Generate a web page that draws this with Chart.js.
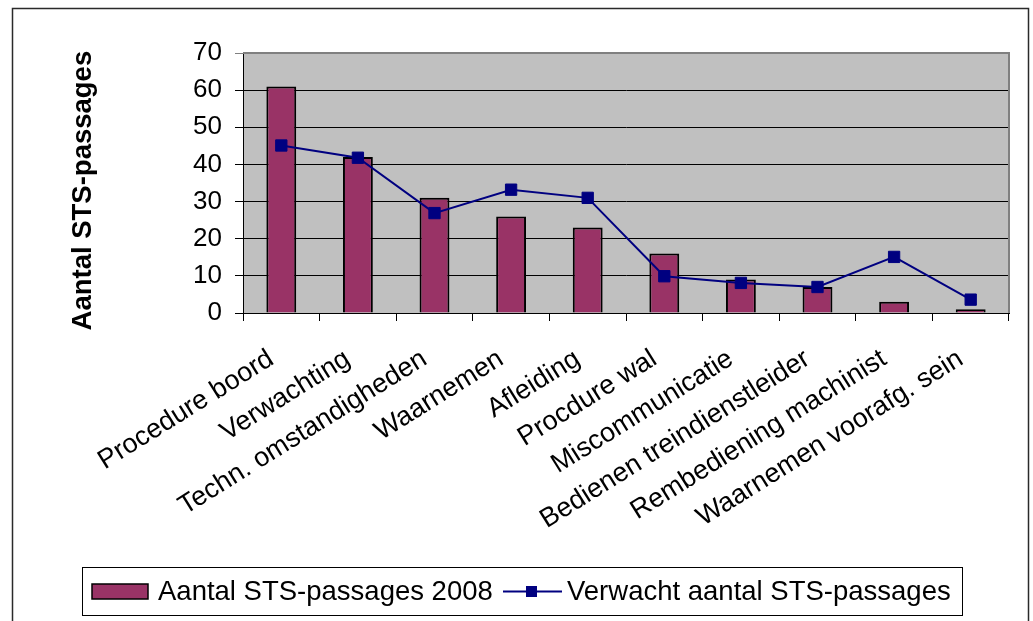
<!DOCTYPE html>
<html>
<head>
<meta charset="utf-8">
<script src="https://cdn.jsdelivr.net/npm/chart.js@4/dist/chart.umd.min.js"></script>
<style>
  html, body { margin: 0; padding: 0; background: #fff; }
  #wrap { width: 1033px; height: 621px; position: relative; }
</style>
</head>
<body>
<div id="wrap"><canvas id="stsChart" width="1033" height="621"></canvas></div>
<script>
const categories = [
  'Procedure boord',
  'Verwachting',
  'Techn. omstandigheden',
  'Waarnemen',
  'Afleiding',
  'Procdure wal',
  'Miscommunicatie',
  'Bedienen treindienstleider',
  'Rembediening machinist',
  'Waarnemen voorafg. sein',
]
const passages2008 = [61, 42, 31, 26, 23, 16, 9, 7, 3, 1]
const expectedPassages = [45.1, 41.8, 26.9, 33.2, 31.0, 9.9, 8.1, 7.0, 15.1, 3.6]
const yTicks = [0, 10, 20, 30, 40, 50, 60, 70]

const FONT = "'Liberation Sans', Arial, sans-serif"
const BAR_COLOR = '#993366'
const LINE_COLOR = '#000080'

// white page, outer frame and grey plot area
const backdrop = {
  id: 'backdrop',
  beforeDraw(chart) {
    const { ctx, chartArea: a } = chart
    ctx.save()
    ctx.fillStyle = '#fff'
    ctx.fillRect(0, 0, chart.width, chart.height)
    ctx.strokeStyle = '#2a2a2a'
    ctx.lineWidth = 1.5
    ctx.strokeRect(12.5, 8.5, 1016, 640)
    ctx.fillStyle = '#c0c0c0'
    ctx.fillRect(a.left, a.top, a.right - a.left, a.bottom - a.top)
    ctx.restore()
  },
  afterDraw(chart) {
    const { ctx, chartArea: a } = chart
    ctx.save()
    ctx.strokeStyle = '#808080'
    ctx.lineWidth = 2
    ctx.beginPath()
    ctx.moveTo(a.left, a.top)
    ctx.lineTo(a.right, a.top)
    ctx.lineTo(a.right, a.bottom)
    ctx.stroke()
    ctx.restore()
  },
}

// excel style legend in a box at the bottom
const boxLegend = {
  id: 'boxLegend',
  afterDraw(chart) {
    const { ctx } = chart
    const [bars, line] = chart.data.datasets
    ctx.save()
    ctx.strokeStyle = '#000'
    ctx.lineWidth = 1
    ctx.strokeRect(82.5, 567.5, 880, 48)

    const cy = 591.5
    ctx.fillStyle = bars.backgroundColor
    ctx.fillRect(92, 584, 56, 15)
    ctx.strokeStyle = '#000'
    ctx.lineWidth = 1.5
    ctx.strokeRect(92, 584, 56, 15)

    ctx.font = '27.5px ' + FONT
    ctx.fillStyle = '#000'
    ctx.textBaseline = 'middle'
    ctx.fillText(bars.label, 158, cy + 1)

    ctx.strokeStyle = line.borderColor
    ctx.lineWidth = 2
    ctx.beginPath()
    ctx.moveTo(503, cy)
    ctx.lineTo(562, cy)
    ctx.stroke()
    ctx.fillStyle = line.borderColor
    ctx.fillRect(526, cy - 5.5, 11, 11)

    ctx.fillStyle = '#000'
    ctx.fillText(line.label, 567, cy + 1)
    ctx.restore()
  },
}

new Chart(document.getElementById('stsChart'), {
  data: {
    labels: categories,
    datasets: [
      {
        type: 'bar',
        label: 'Aantal STS-passages 2008',
        data: passages2008,
        backgroundColor: BAR_COLOR,
        borderColor: '#000',
        borderWidth: 2,
        barPercentage: 0.39,
        categoryPercentage: 1,
        order: 2,
      },
      {
        type: 'line',
        label: 'Verwacht aantal STS-passages',
        data: expectedPassages,
        borderColor: LINE_COLOR,
        backgroundColor: LINE_COLOR,
        borderWidth: 2,
        pointStyle: 'rect',
        pointRadius: 8,
        pointBorderWidth: 1,
        tension: 0,
        order: 1,
      },
    ],
  },
  options: {
    responsive: false,
    animation: false,
    devicePixelRatio: 1,
    layout: { padding: { left: 0, right: 24, top: 53, bottom: 0 } },
    plugins: {
      legend: { display: false },
      tooltip: { enabled: false },
    },
    scales: {
      x: {
        offset: true,
        grid: {
          offset: true,
          drawOnChartArea: false,
          color: '#000',
          tickLength: 8,
        },
        border: { color: '#000', width: 1 },
        ticks: {
          autoSkip: false,
          minRotation: 32,
          maxRotation: 32,
          padding: 22,
          labelOffset: -10,
          color: '#000',
          font: { family: FONT, size: 27 },
        },
        afterFit(scale) {
          scale.height = 308
        },
      },
      y: {
        min: 0,
        max: 70,
        afterBuildTicks(scale) {
          scale.ticks = yTicks.map((v) => ({ value: v }))
        },
        grid: {
          color: (c) => (c.tick && c.tick.value === 70 ? '#808080' : '#000'),
          tickLength: 8,
        },
        border: { color: '#000', width: 1 },
        ticks: {
          padding: 13,
          color: '#000',
          font: { family: FONT, size: 26 },
        },
        title: {
          display: true,
          // trailing spaces nudge the rotated title down a little, like the original
          text: 'Aantal STS-passages  ',
          color: '#000',
          font: { family: FONT, size: 27.5, weight: 'bold' },
          padding: { top: 67, bottom: 0 },
        },
        afterFit(scale) {
          scale.width = 243
        },
      },
    },
  },
  plugins: [backdrop, boxLegend],
})
</script>
</body>
</html>
